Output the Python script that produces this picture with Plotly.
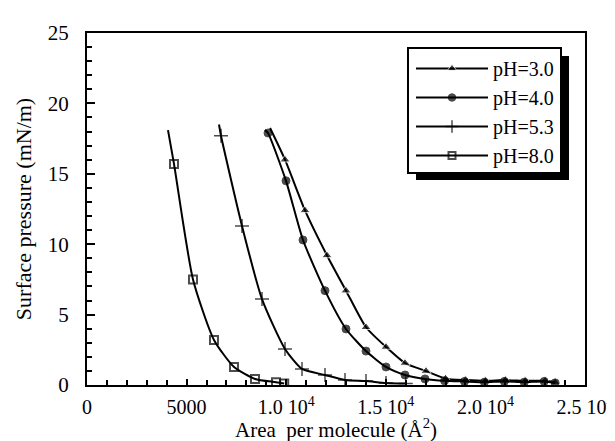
import plotly.graph_objects as go

# Data (Area per molecule in Å², surface pressure in mN/m)
ph30_x = [9190, 9940, 10944, 12048, 13002, 14006, 15010, 15964, 17018, 18000, 19000, 20000, 21000, 22000, 23000, 23500]
ph30_y = [18.25, 16.0, 12.4, 9.2, 6.7, 4.1, 2.7, 1.56, 0.99, 0.45, 0.35, 0.3, 0.35, 0.3, 0.3, 0.2]

ph40_x = [8936, 9086, 9990, 10843, 11948, 13002, 14006, 15010, 15964, 16968, 17950, 18950, 19950, 20950, 21950, 22950, 23500]
ph40_y = [18.1, 17.9, 14.5, 10.3, 6.7, 3.98, 2.41, 1.28, 0.71, 0.43, 0.3, 0.25, 0.2, 0.25, 0.2, 0.25, 0.15]

ph53_x = [6627, 6727, 7781, 8785, 9940, 10793, 11948, 12952, 14006, 15010, 16000]
ph53_y = [18.5, 17.7, 11.3, 6.1, 2.56, 1.14, 0.71, 0.36, 0.28, 0.14, 0.1]

ph80_x = [4066, 4367, 5321, 6375, 7380, 8434, 9488, 9900]
ph80_y = [18.1, 15.7, 7.5, 3.2, 1.28, 0.43, 0.2, 0.1]

series = [
    ("pH=3.0", ph30_x, ph30_y, dict(symbol="triangle-up", size=9, color="black")),
    ("pH=4.0", ph40_x, ph40_y, dict(symbol="circle", size=8, color="black",
                                     line=dict(color="black", width=1))),
    ("pH=5.3", ph53_x, ph53_y, dict(symbol="cross-thin", size=10, color="black",
                                     line=dict(color="black", width=1.5))),
    ("pH=8.0", ph80_x, ph80_y, dict(symbol="square-open", size=8, color="black",
                                     line=dict(color="black", width=2))),
]

xtick_vals = [0, 5000, 10000, 15000, 20000, 25000]
xtick_text = ["0", "5000", "1.0 10<sup>4</sup>", "1.5 10<sup>4</sup>",
              "2.0 10<sup>4</sup>", "2.5 10<sup>4</sup>"]

fig = go.Figure()
for name, xs, ys, mk in series:
    sizes = [0] + [mk["size"]] * (len(xs) - 1)
    m = dict(mk)
    m["size"] = sizes
    fig.add_trace(go.Scatter(
        x=xs, y=ys, name=name, mode="lines+markers",
        line=dict(color="black", width=2, shape="spline", smoothing=0.6),
        marker=m,
    ))

font_family = "Liberation Serif, Times New Roman, serif"

# plot area in px: x 79..577, y 25..377
PL, PR, PT, PB = 79, 577, 25, 377
def px(x):
    return (x - PL) / (PR - PL)
def py(y):
    return (PB - y) / (PB - PT)

# legend frame with drop shadow (drawn as shapes; legend items sit on top)
fig.add_shape(type="rect", xref="paper", yref="paper",
              x0=px(408), x1=px(561), y0=py(172), y1=py(48),
              fillcolor="black", line=dict(width=0), layer="above")
fig.add_shape(type="rect", xref="paper", yref="paper",
              x0=px(400), x1=px(553), y0=py(165), y1=py(40),
              fillcolor="white", line=dict(color="black", width=2), layer="above")

# x-axis title as an annotation so it sits just above the bottom edge
fig.add_annotation(text="Area  per molecule (Å<sup>2</sup>)", xref="paper", yref="paper",
                   x=0.5, y=py(436), xanchor="center", yanchor="bottom",
                   showarrow=False, font=dict(size=21))

fig.update_layout(
    width=615, height=441,
    margin=dict(l=PL, r=615 - PR, t=PT, b=441 - PB),
    paper_bgcolor="white", plot_bgcolor="white",
    font=dict(family=font_family, size=20, color="black"),
    showlegend=True,
    legend=dict(x=px(403), y=py(41), xanchor="left", yanchor="top",
                bgcolor="rgba(0,0,0,0)", borderwidth=0,
                font=dict(size=20), itemwidth=72, tracegroupgap=0),
    xaxis=dict(range=[0, 25000], tickvals=xtick_vals, ticktext=xtick_text,
               automargin=False,
               showgrid=False, zeroline=False, showline=True, linecolor="black",
               linewidth=2, mirror=True, ticks="inside", ticklen=6, tickwidth=2,
               tickcolor="black", tickfont=dict(size=20), ticklabelstandoff=3,
               minor=dict(dtick=1000, ticks="inside", ticklen=5, tickwidth=2, tickcolor="black")),
    yaxis=dict(range=[0, 25], dtick=5, showgrid=False, zeroline=False, showline=True,
               automargin=False,
               linecolor="black", linewidth=2, mirror=True, ticks="inside", ticklen=8,
               tickwidth=2, tickcolor="black", tickfont=dict(size=21), ticklabelstandoff=12,
               minor=dict(dtick=1, ticks="inside", ticklen=5, tickwidth=2, tickcolor="black"),
               title=dict(text="Surface pressure (mN/m)", font=dict(size=22), standoff=10)),
)

fig.write_html("out.html")
